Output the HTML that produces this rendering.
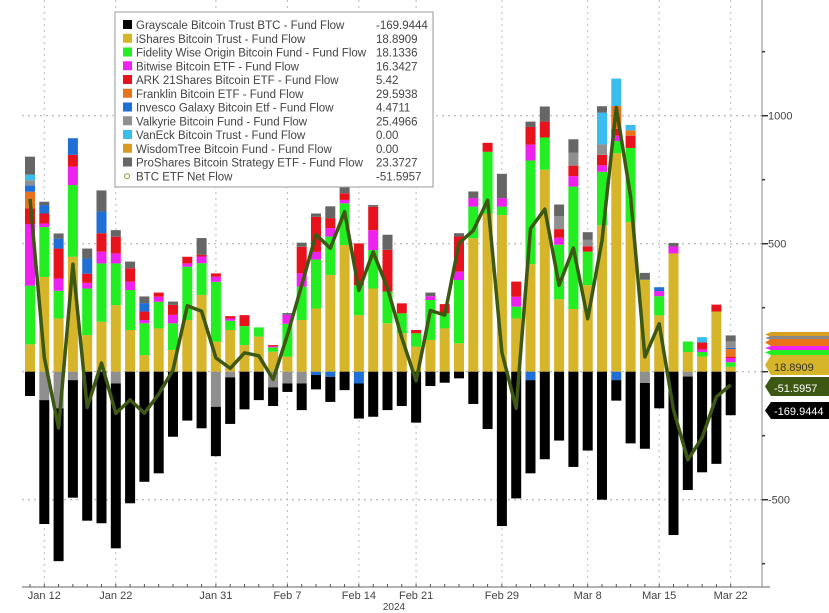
<!DOCTYPE html>
<html><head><meta charset="utf-8"><style>
html,body{margin:0;padding:0;background:#fff;}
svg{display:block;font-family:"Liberation Sans",sans-serif;}
</style></head><body>
<svg id="chart" width="829" height="613" viewBox="0 0 829 613" xmlns="http://www.w3.org/2000/svg">
<g id="grid"></g>
<g id="bars"></g>
<g id="line"></g>
<g id="axes"></g>
<g id="legend"></g>
</svg>
<script>
const dates = ["Jan 11","Jan 12","Jan 16","Jan 17","Jan 18","Jan 19","Jan 22","Jan 23","Jan 24","Jan 25","Jan 26","Jan 29","Jan 30","Jan 31","Feb 1","Feb 2","Feb 5","Feb 6","Feb 7","Feb 8","Feb 9","Feb 12","Feb 13","Feb 14","Feb 15","Feb 16","Feb 20","Feb 21","Feb 22","Feb 23","Feb 26","Feb 27","Feb 28","Feb 29","Mar 1","Mar 4","Mar 5","Mar 6","Mar 7","Mar 8","Mar 11","Mar 12","Mar 13","Mar 14","Mar 15","Mar 18","Mar 19","Mar 20","Mar 21","Mar 22"];
const xTickLabels = ["Jan 12","Jan 22","Jan 31","Feb 7","Feb 14","Feb 21","Feb 29","Mar 8","Mar 15","Mar 22"];
const yTicks = [1000,500,0,-500];
const gbtc = [-95,-484,-597,-459,-582,-592,-644,-514,-430,-397,-254,-191,-221,-193,-182,-147,-111,-73,-33,-104,-56,-98,-72,-137,-176,-150,-134,-199,-56,-43,-26,-126,-224,-603,-495,-364,-342,-269,-372,-308,-500,-80,-280,-257,-143,-638,-443,-393,-360,-169.9444];
const ibit = [107,370,208,449,143,195,260,163,65,169,85,202,300,117,163,104,137,78,59,202,247,378,495,221,325,189,150,98,124,169,111,521,618,612,208,420,789,283,245,338,572,853,585,359,220,462,77,59,235,18.8909];
const fbtc = [229,195,108,280,182,228,163,156,124,104,104,208,124,234,36,74,36,17,128,130,191,150,163,117,150,124,78,52,156,59,247,124,241,33,46,405,126,213,478,131,209,48,289,0,75,0,41,18,0,18.1336];
const bitb = [241,14,48,72,22,46,39,33,13,20,33,13,26,20,9,0,0,4,35,52,30,33,13,0,78,0,0,0,15,0,33,33,0,33,39,62,0,27,41,0,25,21,0,0,20,27,0,10,0,16.3427];
const arkb = [61,39,117,46,36,72,65,52,33,16,39,26,7,13,9,43,0,5,0,104,137,39,26,163,91,163,39,13,0,36,137,0,35,0,59,69,62,34,41,21,41,27,48,0,0,0,0,27,27,5.42];
const ezbc = [65,0,0,0,0,0,0,0,0,0,0,0,0,0,0,0,0,0,0,0,0,0,0,0,0,0,0,0,0,0,0,0,0,0,0,0,0,0,0,0,0,89,21,0,0,0,0,0,0,29.5938];
const btco = [25,33,39,65,59,85,0,0,33,0,0,0,0,0,0,0,0,0,0,0,-13,-20,0,-46,0,0,0,0,0,0,0,0,0,0,0,-33,0,0,0,0,0,-33,0,0,15,0,0,0,0,4.4711];
const brrr = [20,-111,-143,-33,0,0,-46,0,0,0,0,0,0,-137,-22,0,0,-61,-46,-46,0,0,0,0,0,0,0,0,0,0,0,0,0,0,0,0,0,50,50,25,41,0,0,-44,0,0,-19,0,0,25.4966];
const hodl = [22,0,0,0,0,0,0,0,0,0,0,0,0,0,0,0,0,0,0,0,0,0,0,0,0,0,0,0,0,0,0,0,0,0,0,0,0,0,0,0,124,107,21,0,0,0,0,21,0,0];
const btcw = [0,0,0,0,0,0,0,0,0,0,0,0,0,0,0,0,0,0,0,0,0,0,0,0,0,0,0,0,0,0,0,0,0,0,0,0,0,0,0,0,0,0,0,0,0,0,0,0,0,0];
const bito = [70,13,20,0,39,82,26,26,26,0,13,0,65,0,0,0,0,0,7,16,13,46,33,0,7,59,0,0,14,0,13,26,0,95,0,21,59,46,53,30,25,0,0,27,0,14,0,0,0,23.3727];

const NS="http://www.w3.org/2000/svg";
function mk(tag,attrs,parent){const e=document.createElementNS(NS,tag);for(const k in attrs)e.setAttribute(k,attrs[k]);parent.appendChild(e);return e;}
const X0=30, DX=14.3, BW=10, Y0=371.7, K=0.256, AXR=762, AXB=587, PL=22;
const xOf=i=>X0+i*DX;
const yOf=v=>Y0-v*K;

const series=[
 {name:"iShares Bitcoin Trust - Fund Flow",d:ibit,c:"#d6b52a",key:"ishares"},
 {name:"Fidelity Wise Origin Bitcoin Fund - Fund Flow",d:fbtc,c:"#22ee22",key:"fidelity"},
 {name:"Bitwise Bitcoin ETF - Fund Flow",d:bitb,c:"#ee22ee",key:"bitwise"},
 {name:"ARK 21Shares Bitcoin ETF - Fund Flow",d:arkb,c:"#e8121c",key:"ark"},
 {name:"Franklin Bitcoin ETF - Fund Flow",d:ezbc,c:"#e8731a",key:"franklin"},
 {name:"Invesco Galaxy Bitcoin Etf - Fund Flow",d:btco,c:"#1f6fd6",key:"invesco"},
 {name:"Valkyrie Bitcoin Fund - Fund Flow",d:brrr,c:"#8f8f8f",key:"valkyrie"},
 {name:"VanEck Bitcoin Trust - Fund Flow",d:hodl,c:"#38bdee",key:"vaneck"},
 {name:"WisdomTree Bitcoin Fund - Fund Flow",d:btcw,c:"#d89a20",key:"wisdomtree"},
 {name:"ProShares Bitcoin Strategy ETF - Fund Flow",d:bito,c:"#666666",key:"proshares"},
 {name:"Grayscale Bitcoin Trust BTC - Fund Flow",d:gbtc,c:"#000000",key:"grayscale"}
];

// grid
const grid=document.getElementById('grid');
yTicks.forEach(v=>{
 const l=mk('line',{x1:PL,x2:AXR,y1:yOf(v),y2:yOf(v),stroke:"#aaa","stroke-width":1,"stroke-dasharray":"2,4"},grid);
 
 
});
xTickLabels.forEach(lbl=>{
 const i=dates.indexOf(lbl);
 const l=mk('line',{x1:xOf(i),x2:xOf(i),y1:0,y2:AXB,stroke:"#bbb","stroke-width":1,"stroke-dasharray":"2,4"},grid);
 
 
});

// bars
const bars=document.getElementById('bars');
for(let i=0;i<dates.length;i++){
 let pos=0,neg=0;
 series.forEach(s=>{
  const v=s.d[i]; if(!v) return;
  let y,h;
  if(v>0){y=yOf(pos+v);h=v*K;pos+=v;} else {y=yOf(neg);h=-v*K;neg+=v;}
  const r=mk('rect',{x:xOf(i)-BW/2,y:y,width:BW,height:h,fill:s.c},bars);
  
  
 });
}

// net line (excludes ProShares futures ETF)
const net=dates.map((_,i)=>series.filter(s=>s.key!=="proshares").reduce((a,s)=>a+s.d[i],0));
const lg=document.getElementById('line');
const pts=net.map((v,i)=>xOf(i).toFixed(1)+","+yOf(v).toFixed(1)).join(" ");
const pl=mk('polyline',{points:pts,fill:"none",stroke:"#3d5812","stroke-width":3.5,"stroke-linejoin":"round"},lg);



// axes
const ax=document.getElementById('axes');
mk('line',{x1:AXR,x2:AXR,y1:0,y2:AXB,stroke:"#999","stroke-width":1.2},ax);
mk('line',{x1:PL,x2:AXR+8,y1:AXB,y2:AXB,stroke:"#999","stroke-width":1.5},ax);
[1250,1000,750,500,250,0,-250,-500,-750].forEach(v=>{
 mk('line',{x1:AXR,x2:AXR+(v%500===0?6:3),y1:yOf(v),y2:yOf(v),stroke:"#333","stroke-width":1.5},ax);
});
yTicks.filter(v=>v!==0).forEach(v=>{
 const t=mk('text',{x:AXR+6,y:yOf(v)+4,"font-size":11,fill:"#444"},ax);
 t.textContent=String(v);
 
 
});
for(let i=0;i<dates.length;i++){
 mk('line',{x1:xOf(i),x2:xOf(i),y1:AXB-3,y2:AXB,stroke:"#555","stroke-width":1},ax);
}
xTickLabels.forEach(lbl=>{
 const i=dates.indexOf(lbl);
 const t=mk('text',{x:xOf(i),y:599,"font-size":11,fill:"#444","text-anchor":"middle"},ax);
 t.textContent=lbl;
 
 
});
const yr=mk('text',{x:394,y:610,"font-size":10,fill:"#444","text-anchor":"middle"},ax);
yr.textContent="2024";



// right value tags
function tag(y,h,fill,txt,tc,name){
 const g=mk('g',{},ax);
 
 
 mk('path',{d:`M${AXR+3},${y+h/2} L${AXR+9},${y} L829,${y} L829,${y+h} L${AXR+9},${y+h} Z`,fill:fill},g);
 if(txt){const t=mk('text',{x:AXR+12,y:y+h-4,"font-size":11,fill:tc},g);t.textContent=txt;}
}
tag(332,5,"#d8a020","","#000","tag-wisdomtree");
tag(336,4,"#888","","#000","tag-valkyrie");
tag(339,7,"#e8731a","","#000","tag-franklin");
tag(346,4,"#ee22ee","","#000","tag-bitwise");
tag(350,5,"#22ee22","","#000","tag-fidelity");
tag(355,20,"#d6b52a","18.8909","#333","tag-ishares");
tag(377,19,"#3d5812","-51.5957","#fff","tag-net");
tag(402,17,"#000","-169.9444","#fff","tag-grayscale");

// legend
const lgd=document.getElementById('legend');
mk('rect',{x:115,y:12,width:318,height:175,fill:"#fff",stroke:"#999","stroke-width":1},lgd);
const legVals=["-169.9444","18.8909","18.1336","16.3427","5.42","29.5938","4.4711","25.4966","0.00","0.00","23.3727","-51.5957"];
const order=[10,0,1,2,3,4,5,6,7,8,9];
order.forEach((si,r)=>{
 const s=series[si]; const y=25+r*13.75;
 const g=mk('g',{},lgd);
 
 
 mk('rect',{x:123,y:y-5,width:9,height:9,fill:s.c},g);
 const t=mk('text',{x:136,y:y+4,"font-size":11.5,fill:"#444"},g);t.textContent=s.name;
 const v=mk('text',{x:376,y:y+4,"font-size":11.5,fill:"#444"},g);v.textContent=legVals[r];
});
{
 const y=25+11*13.75;
 const g=mk('g',{},lgd);
 
 
 mk('circle',{cx:127,cy:y,r:2.5,fill:"none",stroke:"#8a9a40","stroke-width":1},g);
 const t=mk('text',{x:136,y:y+4,"font-size":11.5,fill:"#444"},g);t.textContent="BTC ETF Net Flow";
 const v=mk('text',{x:376,y:y+4,"font-size":11.5,fill:"#444"},g);v.textContent=legVals[11];
}
</script>
</body></html>
